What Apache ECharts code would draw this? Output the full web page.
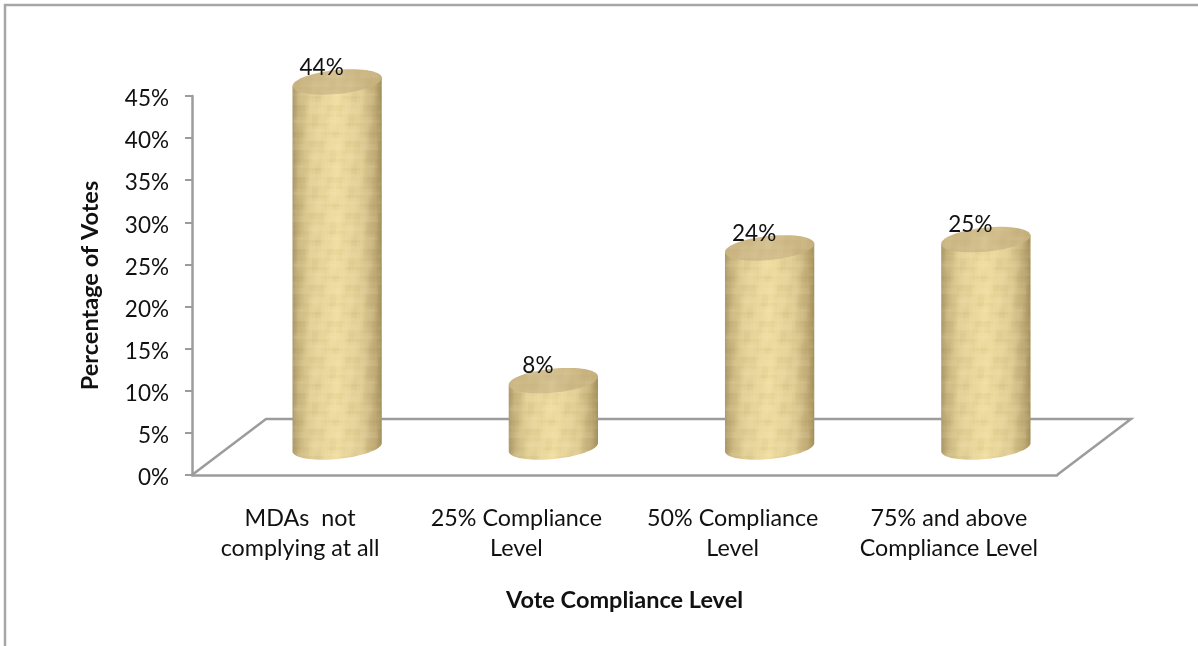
<!DOCTYPE html>
<html><head><meta charset="utf-8">
<style>html,body{margin:0;padding:0;background:#fff}#c{width:1198px;height:646px}</style>
<script src="https://cdn.jsdelivr.net/npm/echarts@6/dist/echarts.min.js"></script>
</head><body><div id="c"></div>
<script>
const categories = ['MDAs  not\ncomplying at all','25% Compliance\nLevel','50% Compliance\nLevel','75% and above\nCompliance Level'];
const votes = [44, 8, 24, 25];
const yTicks = {min:0, max:45, interval:5};
const xName = 'Vote Compliance Level';
const yName = 'Percentage of Votes';

const FONT = 'Lato, "Open Sans", sans-serif';
const AXIS = '#9c9c9c';
const DEPTH_X = 74, DEPTH_Y = 56;

// soft woven tile for the cylinder surface
function makeTile(){
  const c = document.createElement('canvas'); c.width = 72; c.height = 72;
  const g = c.getContext('2d');
  for(let y=0;y<72;y+=3){ for(let x=0;x<72;x+=3){
    const n = Math.sin(x*Math.PI/18)*Math.cos(y*Math.PI/12)*0.6 + Math.sin(y*Math.PI/4.5)*0.3 + Math.sin(x*Math.PI/6+y*Math.PI/36)*0.3;
    g.fillStyle = n>0 ? 'rgba(255,248,215,'+(0.14*Math.min(n,1))+')' : 'rgba(125,98,50,'+(0.09*Math.min(-n,1))+')';
    g.fillRect(x,y,3,3);
  }}
  return c;
}
const tile = makeTile();

function ellipsePts(cx,cy,rx,ry,rot,from,to,n){
  const pts=[], cr=Math.cos(rot), sr=Math.sin(rot);
  for(let i=0;i<=n;i++){
    const t=from+(to-from)*i/n, ex=rx*Math.cos(t), ey=ry*Math.sin(t);
    pts.push([cx+ex*cr-ey*sr, cy+ex*sr+ey*cr]);
  }
  return pts;
}

function renderFloor(params, api){
  const s = params.coordSys, x0=s.x, x1=s.x+s.width, y=s.y+s.height;
  const st = {stroke:AXIS, lineWidth:2.5, fill:null};
  return {type:'polyline', silent:true, shape:{points:[[x0,y],[x0+DEPTH_X,y-DEPTH_Y],[x1+DEPTH_X,y-DEPTH_Y],[x1,y]]}, style:st};
}

function renderCyl(params, api){
  const base = api.coord([api.value(0),0]);
  const top = api.coord([api.value(0),api.value(1)]);
  const w = api.size([1,0])[0]*0.415;
  const cx = base[0]+DEPTH_X/2, by = base[1]-28;
  const ty = by-(base[1]-top[1])*0.985;
  const rx=w/2, ry=12, rot=-0.1;
  const front = ellipsePts(cx,by,rx,ry,rot,Math.PI,0,40);
  const back = [[cx+rx*Math.cos(rot),ty+rx*Math.sin(rot)],[cx-rx*Math.cos(rot),ty-rx*Math.sin(rot)]];
  const body = front.concat(back);
  const topPts = ellipsePts(cx,ty,rx,ry,rot,0,Math.PI*2,60);
  const side = new echarts.graphic.LinearGradient(0,0,1,0,[
    {offset:0,color:'#ad9a6b'},{offset:0.07,color:'#c8b47c'},{offset:0.2,color:'#e1cf96'},
    {offset:0.5,color:'#efdda0'},{offset:0.78,color:'#dfcc93'},{offset:0.93,color:'#bfa974'},{offset:1,color:'#a3905b'}]);
  const cap = new echarts.graphic.LinearGradient(0,0,1,0.2,[
    {offset:0,color:'#c9b481'},{offset:0.5,color:'#d4c08f'},{offset:1,color:'#c6b07c'}]);
  return {type:'group', children:[
    {type:'polygon',shape:{points:body},style:{fill:side}},
    {type:'polygon',shape:{points:body},style:{fill:{image:tile,repeat:'repeat'}}},
    {type:'polygon',shape:{points:topPts},style:{fill:cap}},
    {type:'polygon',shape:{points:topPts},style:{fill:{image:tile,repeat:'repeat'},opacity:0.6}},
    {type:'text',style:{x:cx-15.5,y:ty-14.5,text:api.value(1)+'%',align:'center',verticalAlign:'middle',
      fill:'#111',font:'22.5px '+FONT}}
  ]};
}

const chart = echarts.init(document.getElementById('c'),null,{renderer:'canvas'});
chart.setOption({
  animation:false,
  backgroundColor:'#fff',
  graphic:[
    {type:'polyline',silent:true,z:0,shape:{points:[[5,650],[5,5],[1200,5]]},style:{stroke:'#a6a6a6',lineWidth:2.5,fill:null}}
  ],
  grid:{left:192,right:141,top:96,bottom:171},
  xAxis:{type:'category',data:categories,
    name:xName,nameLocation:'middle',nameGap:113,
    nameTextStyle:{fontFamily:FONT,fontWeight:'bold',fontSize:23.5,color:'#111'},
    axisLine:{lineStyle:{color:AXIS,width:2.5}},
    axisTick:{length:8,lineStyle:{color:AXIS,width:2}},
    axisLabel:{fontFamily:FONT,fontSize:23.3,color:'#111',lineHeight:30,margin:28,interval:0}},
  yAxis:{type:'value',min:yTicks.min,max:yTicks.max,interval:yTicks.interval,
    name:yName,nameLocation:'middle',nameGap:90,nameRotate:90,
    nameTextStyle:{fontFamily:FONT,fontWeight:'bold',fontSize:23.5,color:'#111'},
    axisLine:{show:true,lineStyle:{color:AXIS,width:2.5}},
    axisTick:{show:true,length:7,lineStyle:{color:AXIS,width:2}},
    splitLine:{show:false},
    axisLabel:{fontFamily:FONT,fontSize:22.5,color:'#111',margin:23,verticalAlign:'top',lineHeight:6,formatter:'{value}%'}},
  series:[
    {type:'custom',renderItem:renderFloor,data:[0],z:1,silent:true},
    {type:'custom',renderItem:renderCyl,data:votes.map((v,i)=>[i,v]),encode:{x:0,y:1},z:3}
  ]
});
</script></body></html>
